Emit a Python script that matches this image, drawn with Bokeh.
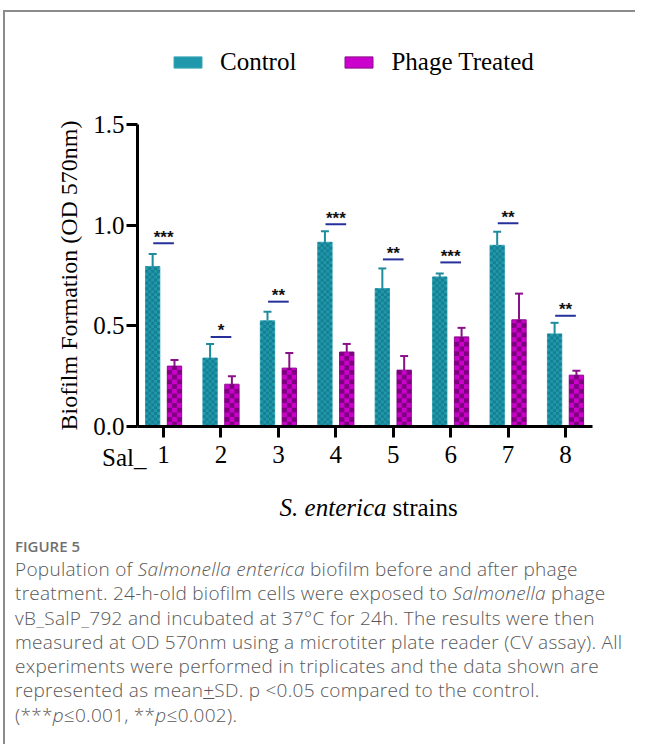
import math
from bokeh.plotting import figure
from bokeh.models import (ColumnDataSource, Range1d, FixedTicker, Whisker, TeeHead,
                          Legend, LegendItem, Label, Div, NumeralTickFormatter)
from bokeh.layouts import column
from bokeh.core.properties import value
from bokeh.embed import file_html
from bokeh.resources import INLINE

# ---------------- data ----------------
strains = ["1", "2", "3", "4", "5", "6", "7", "8"]
control = [0.795, 0.34, 0.525, 0.915, 0.685, 0.743, 0.90, 0.46]
control_sd = [0.062, 0.07, 0.045, 0.055, 0.10, 0.017, 0.067, 0.055]
phage = [0.30, 0.21, 0.29, 0.37, 0.28, 0.445, 0.53, 0.255]
phage_sd = [0.03, 0.04, 0.075, 0.04, 0.07, 0.045, 0.13, 0.022]
sig_labels = ["***", "*", "**", "***", "**", "***", "**", "**"]
sig_y = [0.91, 0.445, 0.62, 1.005, 0.83, 0.815, 1.01, 0.55]
y_ticks = [0.0, 0.5, 1.0, 1.5]

# ---------------- geometry (page pixels) ----------------
FIG_W, FIG_H = 620, 517
FIG_LEFT, FIG_TOP = 7, 13
AX_L, AX_R = 139, 594       # x-axis extent
Y0_PX, Y15_PX = 427, 125    # y of 0.0 and 1.5
X_LO, X_HI = 0.546, 8.47
Y_MAX = 1.5

sx = (AX_R - AX_L) / (X_HI - X_LO)
x_start = X_LO - (AX_L - FIG_LEFT) / sx
x_end = x_start + FIG_W / sx
sy = (Y0_PX - Y15_PX) / Y_MAX
y_end = (Y0_PX - FIG_TOP) / sy
y_start = y_end - FIG_H / sy

x_pos = list(range(1, len(strains) + 1))
dx = 0.19
bw = 0.25

src = ColumnDataSource(dict(
    xc=[x - dx for x in x_pos], xp=[x + dx for x in x_pos],
    control=control, phage=phage,
    cup=[c + s for c, s in zip(control, control_sd)],
    pup=[c + s for c, s in zip(phage, phage_sd)],
    x=x_pos, sig_y=sig_y, sig=sig_labels,
    l0=[x - 0.18 for x in x_pos], l1=[x + 0.18 for x in x_pos],
))


def checker_cells(xs, heights, ncol, cell_px):
    """Dark cells of a checker pattern filling each bar (derived from bar values)."""
    cw = bw / ncol
    ch = cell_px / sy
    cx, cy, chh = [], [], []
    for xb, h in zip(xs, heights):
        nrow = int(math.ceil(h / ch))
        for r in range(nrow):
            y0 = r * ch
            y1 = min(h, (r + 1) * ch)
            for c in range(ncol):
                if (r + c) % 2 == 1:
                    cx.append(xb - bw / 2 + (c + 0.5) * cw)
                    cy.append((y0 + y1) / 2)
                    chh.append(y1 - y0)
    return ColumnDataSource(dict(x=cx, y=cy, h=chh)), cw


p = figure(width=FIG_W, height=FIG_H, output_backend="svg", toolbar_location=None,
           x_range=Range1d(x_start, x_end), y_range=Range1d(y_start, y_end),
           min_border=0, min_border_left=0, min_border_right=0,
           min_border_top=0, min_border_bottom=0)
p.outline_line_color = None
p.grid.visible = False
p.background_fill_color = "white"
p.border_fill_color = "white"

r_c = p.vbar(x="xc", top="control", width=bw, source=src, fill_color="#1f98ab",
             line_color="#3aa8b8", line_width=1)
r_p = p.vbar(x="xp", top="phage", width=bw, source=src, fill_color="#cc00cc",
             line_color="#8a108a", line_width=1)
tc_src, tcw = checker_cells(src.data["xc"], control, 5, 2.9)
p.rect(x="x", y="y", width=tcw, height="h", source=tc_src, fill_color="#167f91", line_color=None)
pc_src, pcw = checker_cells(src.data["xp"], phage, 3, 4.7)
p.rect(x="x", y="y", width=pcw, height="h", source=pc_src, fill_color="#7f007f", line_color=None)

wc = Whisker(source=src, base="xc", lower="control", upper="cup", line_color="#1f8c9c",
             line_width=2, lower_head=None,
             upper_head=TeeHead(size=8, line_color="#1f8c9c", line_width=2))
wp = Whisker(source=src, base="xp", lower="phage", upper="pup", line_color="#8a108a",
             line_width=2, lower_head=None,
             upper_head=TeeHead(size=8, line_color="#8a108a", line_width=2))
p.add_layout(wc)
p.add_layout(wp)

p.segment(x0="l0", x1="l1", y0="sig_y", y1="sig_y", source=src, line_color="#26309a", line_width=2)
p.text(x="x", y="sig_y", text="sig", source=src, text_align="center", text_baseline="alphabetic",
       y_offset=-6, text_font=value("Liberation Sans"), text_font_size="17px",
       text_font_style="bold", text_color="#111111")

serif = "Liberation Serif"
# axes fixed at the data origin
p.xaxis.fixed_location = 0
p.yaxis.fixed_location = X_LO
p.xaxis.bounds = (X_LO, X_HI)
p.yaxis.bounds = (0, Y_MAX)
p.yaxis.ticker = FixedTicker(ticks=y_ticks)
p.yaxis.formatter = NumeralTickFormatter(format="0.0")
p.xaxis.ticker = FixedTicker(ticks=x_pos)
p.xaxis.major_label_overrides = {x: s for x, s in zip(x_pos, strains)}
for ax in (p.xaxis, p.yaxis):
    ax.axis_line_width = 3
    ax.axis_line_color = "black"
    ax.major_tick_line_width = 3
    ax.major_tick_line_color = "black"
    ax.major_tick_in = 0
    ax.major_tick_out = 11
    ax.minor_tick_line_color = None
    ax.major_label_text_font = serif
    ax.major_label_text_font_size = "25px"
    ax.major_label_text_color = "black"
p.yaxis.major_label_standoff = 2
p.xaxis.major_label_standoff = 8
p.yaxis.axis_label = "Biofilm Formation (OD 570nm)"
p.yaxis.axis_label_text_font = serif
p.yaxis.axis_label_text_font_size = "24px"
p.yaxis.axis_label_text_font_style = "normal"
p.yaxis.axis_label_text_color = "black"
p.yaxis.axis_label_standoff = 8

# "Sal_" prefix and x title
p.add_layout(Label(x=X_LO + 9 / sx, y=-31 / sy, text="Sal_", text_align="right", text_baseline="middle",
                   text_font=serif, text_font_size="25px", text_color="black"))
p.add_layout(Label(x=X_LO + 249 / sx, y=-81 / sy, text="S. enterica", text_align="right", text_baseline="middle",
                   text_font=serif, text_font_size="25px", text_font_style="italic", text_color="black"))
p.add_layout(Label(x=X_LO + 255 / sx, y=-81 / sy, text="strains", text_align="left", text_baseline="middle",
                   text_font=serif, text_font_size="25px", text_color="black"))

legend = Legend(items=[LegendItem(label="Control", renderers=[r_c]),
                       LegendItem(label="Phage Treated", renderers=[r_p])],
                orientation="horizontal", location=(172 - FIG_LEFT, FIG_H - (77 - FIG_TOP)),
                glyph_width=35, glyph_height=14, label_standoff=15, spacing=45,
                padding=0, margin=0, border_line_color=None, background_fill_alpha=0,
                label_text_font=serif, label_text_font_size="25px", label_text_color="black")
p.add_layout(legend)

caption = Div(width=FIG_W, height=205, text=(
    '<div style="font-family:\'Open Sans\', sans-serif; color:#555; padding-left:5px; white-space:nowrap;">'
    '<div style="font-size:15px; font-weight:600; color:#707070; margin-top:2px; line-height:20px;">FIGURE 5</div>'
    '<div style="font-size:19px; line-height:24.3px; margin-top:1px; color:#585858; font-weight:300; letter-spacing:0.28px;">'
    'Population of <i>Salmonella enterica</i> biofilm before and after phage<br>'
    'treatment. 24-h-old biofilm cells were exposed to <i>Salmonella</i> phage<br>'
    'vB_SalP_792 and incubated at 37°C for 24h. The results were then<br>'
    'measured at OD 570nm using a microtiter plate reader (CV assay). All<br>'
    'experiments were performed in triplicates and the data shown are<br>'
    'represented as mean<u>+</u>SD. p &lt;0.05 compared to the control.<br>'
    '(***<i>p</i>\u22640.001, **<i>p</i>\u22640.002).'
    '</div></div>'))

layout = column(p, caption, styles={"border-left": "2px solid #8c8c8c",
                                     "border-top": "2px solid #8c8c8c",
                                     "margin-top": "10px", "margin-left": "3px"})

open("out.html", "w").write(file_html(layout, INLINE))
